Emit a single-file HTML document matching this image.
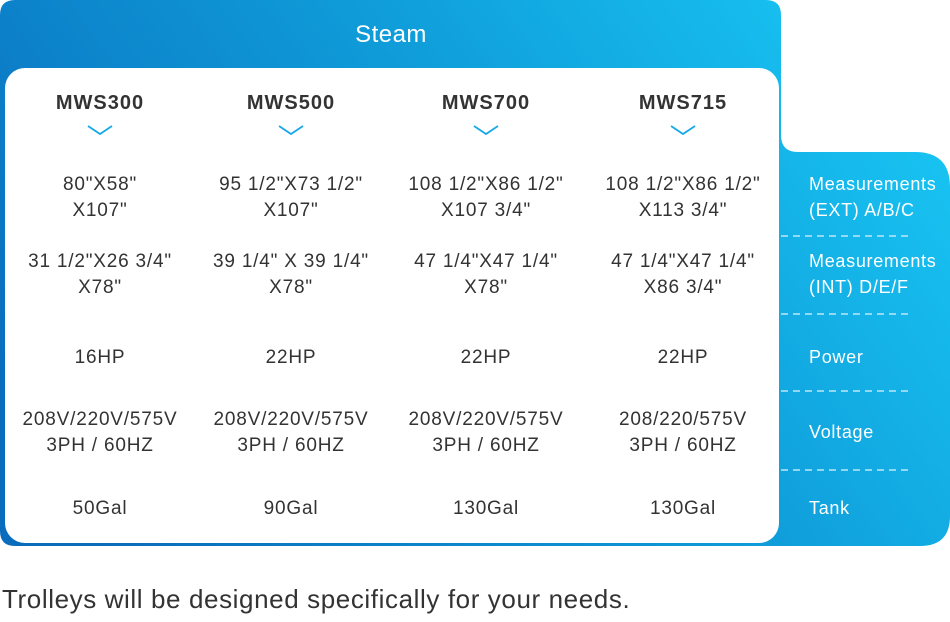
<!DOCTYPE html>
<html><head><meta charset="utf-8"><style>
body{margin:0;width:950px;height:622px;background:#fff;overflow:hidden;font-family:"Liberation Sans",sans-serif;}
svg{position:absolute;left:0;top:0}
.t{position:absolute;transform:translateX(-50%);text-align:center;color:#333;font-size:19px;letter-spacing:0.8px;line-height:26px;white-space:nowrap;margin-top:2px}
.h{font-weight:bold;font-size:20px;letter-spacing:1px;color:#333}
.r{position:absolute;left:809px;color:#fff;font-size:18px;letter-spacing:0.7px;line-height:26px;white-space:nowrap;margin-top:1px}
</style></head><body>
<svg width="950" height="622">
<defs><linearGradient id="g" gradientUnits="userSpaceOnUse" x1="100" y1="546" x2="850" y2="0">
<stop offset="0" stop-color="#0a6cbd"/><stop offset="0.55" stop-color="#0f9ad8"/><stop offset="1" stop-color="#18c4f2"/></linearGradient></defs>
<path d="M15 0 H766 Q781 0 781 15 V135 Q781 152 798 152 H915 Q950 152 950 187 V516 Q950 546 920 546 H15 Q0 546 0 531 V15 Q0 0 15 0Z" fill="url(#g)"/>
<rect x="5" y="68" width="774" height="475" rx="20" fill="#fff"/>
<g stroke="#bfe6f8" stroke-width="1.5" stroke-dasharray="7,5">
<line x1="781" y1="236" x2="913" y2="236"/><line x1="781" y1="314" x2="913" y2="314"/>
<line x1="781" y1="391" x2="913" y2="391"/><line x1="781" y1="470" x2="913" y2="470"/></g>
<g stroke="#16a8ea" stroke-width="1.8" fill="none">
<polyline points="88,126 100,134 112,126"/><polyline points="279,126 291,134 303,126"/>
<polyline points="474,126 486,134 498,126"/><polyline points="671,126 683,134 695,126"/></g>
</svg>
<div style="position:absolute;left:391px;top:21px;transform:translateX(-50%);color:#fff;font-size:24px;letter-spacing:0.5px">Steam</div>
<div class="t h" style="left:100px;top:88px">MWS300</div>
<div class="t h" style="left:291px;top:88px">MWS500</div>
<div class="t h" style="left:486px;top:88px">MWS700</div>
<div class="t h" style="left:683px;top:88px">MWS715</div>

<div class="t" style="left:100px;top:170px">80"X58"<br>X107"</div>
<div class="t" style="left:291px;top:170px">95 1/2"X73 1/2"<br>X107"</div>
<div class="t" style="left:486px;top:170px">108 1/2"X86 1/2"<br>X107 3/4"</div>
<div class="t" style="left:683px;top:170px">108 1/2"X86 1/2"<br>X113 3/4"</div>

<div class="t" style="left:100px;top:247px">31 1/2"X26 3/4"<br>X78"</div>
<div class="t" style="left:291px;top:247px">39 1/4" X 39 1/4"<br>X78"</div>
<div class="t" style="left:486px;top:247px">47 1/4"X47 1/4"<br>X78"</div>
<div class="t" style="left:683px;top:247px">47 1/4"X47 1/4"<br>X86 3/4"</div>

<div class="t" style="left:100px;top:343px">16HP</div>
<div class="t" style="left:291px;top:343px">22HP</div>
<div class="t" style="left:486px;top:343px">22HP</div>
<div class="t" style="left:683px;top:343px">22HP</div>

<div class="t" style="left:100px;top:405px">208V/220V/575V<br>3PH / 60HZ</div>
<div class="t" style="left:291px;top:405px">208V/220V/575V<br>3PH / 60HZ</div>
<div class="t" style="left:486px;top:405px">208V/220V/575V<br>3PH / 60HZ</div>
<div class="t" style="left:683px;top:405px">208/220/575V<br>3PH / 60HZ</div>

<div class="t" style="left:100px;top:494px">50Gal</div>
<div class="t" style="left:291px;top:494px">90Gal</div>
<div class="t" style="left:486px;top:494px">130Gal</div>
<div class="t" style="left:683px;top:494px">130Gal</div>

<div class="r" style="top:170px">Measurements<br>(EXT) A/B/C</div>
<div class="r" style="top:247px">Measurements<br>(INT) D/E/F</div>
<div class="r" style="top:343px">Power</div>
<div class="r" style="top:418px">Voltage</div>
<div class="r" style="top:494px">Tank</div>

<div style="position:absolute;left:2px;top:584px;color:#333;font-size:26px;letter-spacing:0.6px">Trolleys will be designed specifically for your needs.</div>
</body></html>
